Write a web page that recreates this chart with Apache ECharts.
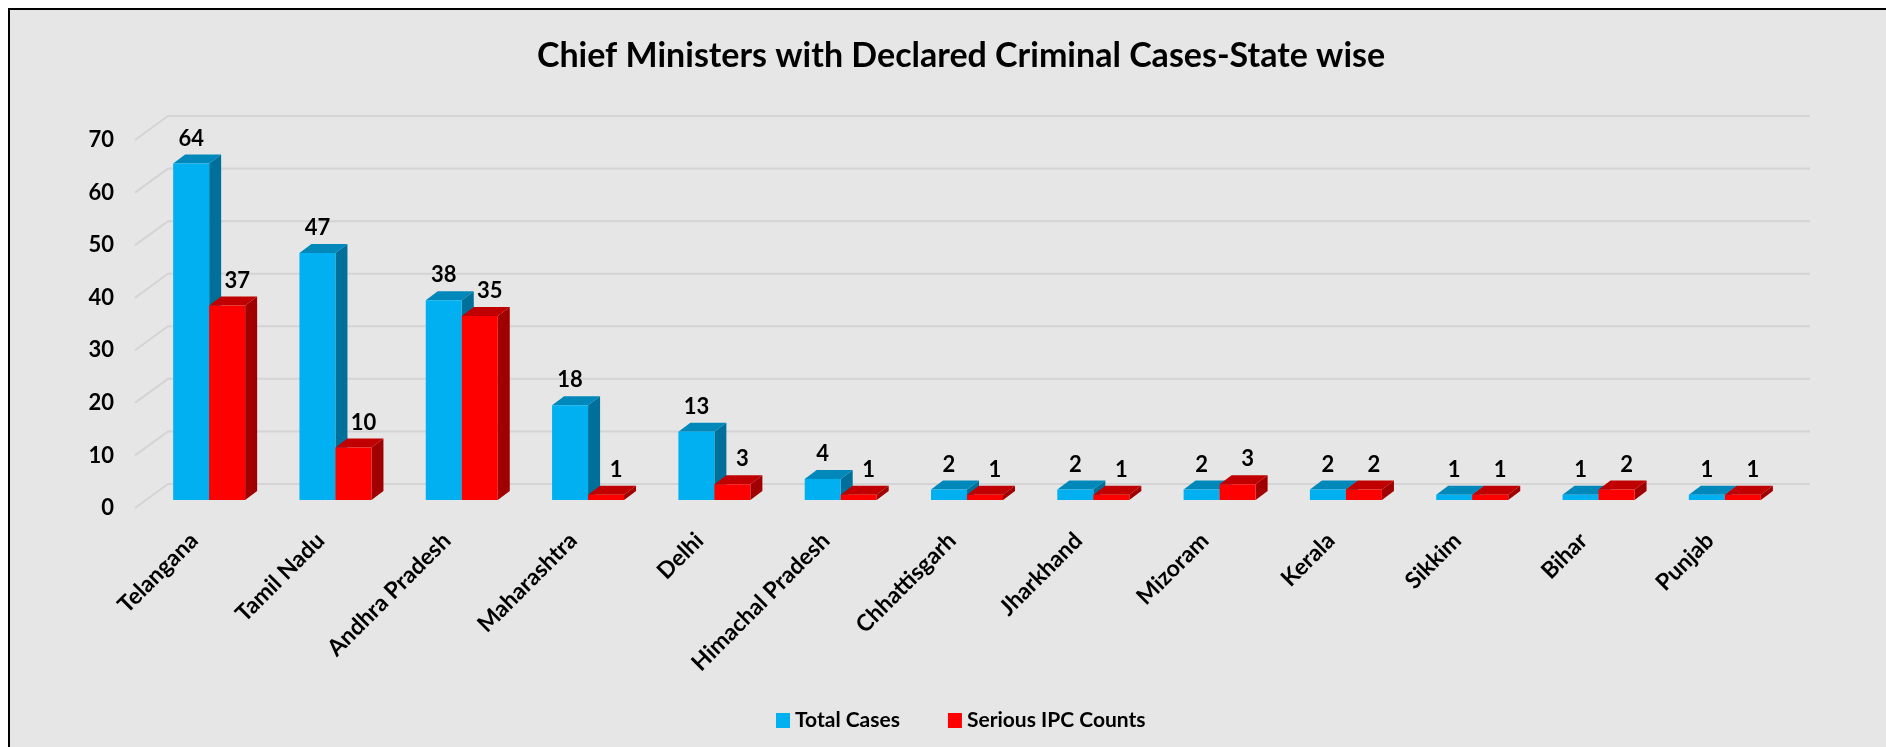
<!DOCTYPE html>
<html>
<head>
<meta charset="utf-8">
<script src="https://cdn.jsdelivr.net/npm/echarts@6/dist/echarts.min.js"></script>
<style>
html,body{margin:0;padding:0;background:#ffffff;}
#chart{width:1886px;height:747px;}
</style>
</head>
<body>
<div id="chart"></div>
<script>
const titleText = 'Chief Ministers with Declared Criminal Cases-State wise';
const categories = ['Telangana','Tamil Nadu','Andhra Pradesh','Maharashtra','Delhi','Himachal Pradesh','Chhattisgarh','Jharkhand','Mizoram','Kerala','Sikkim','Bihar','Punjab'];
const totalCases = [64,47,38,18,13,4,2,2,2,2,1,1,1];
const seriousIPC = [37,10,35,1,3,1,1,1,3,2,1,2,1];
const yTicks = [0,10,20,30,40,50,60,70];
const seriesNames = ['Total Cases','Serious IPC Counts'];

const FONT = 'Lato, "Open Sans", sans-serif';
const DEPTH_X = 12, DEPTH_Y = 9;       // bar depth
const WALL_BACK_X = 22, WALL_BACK_Y = -16;  // back wall offset from bar plane
const FLOOR_FRONT_X = -11, FLOOR_FRONT_Y = 8; // floor front edge offset

function barRenderer(side, front, topC, sideC, labelShift) {
  return function (params, api) {
    const idx = api.value(0), val = api.value(1);
    const base = api.coord([idx, 0]);
    const top = api.coord([idx, val]);
    const band = api.size([1, 0])[0];
    const w = band * 0.285;
    const x0 = side === 0 ? base[0] - w : base[0];
    const x1 = x0 + w;
    const yb = base[1], yt = top[1];
    return {
      type: 'group',
      children: [
        { type: 'polygon', shape: { points: [[x1, yt], [x1 + DEPTH_X, yt - DEPTH_Y], [x1 + DEPTH_X, yb - DEPTH_Y], [x1, yb]] }, style: { fill: sideC } },
        { type: 'polygon', shape: { points: [[x0, yt], [x0 + DEPTH_X, yt - DEPTH_Y], [x1 + DEPTH_X, yt - DEPTH_Y], [x1, yt]] }, style: { fill: topC } },
        { type: 'rect', shape: { x: x0, y: yt, width: w, height: yb - yt }, style: { fill: front } },
        { type: 'text', style: { x: (x0 + x1) / 2 + labelShift, y: yt - 25, text: String(val), fill: '#000', font: 'bold 22px ' + FONT, textAlign: 'center', textVerticalAlign: 'middle' } }
      ]
    };
  };
}

function wallRenderer(params, api) {
  const v = api.value(0);
  const cs = params.coordSys;
  const p = api.coord([0, v]);
  const y = p[1];
  const xl = cs.x, xr = cs.x + cs.width;
  return {
    type: 'polyline',
    shape: { points: [[xl + FLOOR_FRONT_X, y + FLOOR_FRONT_Y], [xl + WALL_BACK_X, y + WALL_BACK_Y], [xr + WALL_BACK_X, y + WALL_BACK_Y]] },
    style: { stroke: '#d4d4d4', lineWidth: 2, fill: null }
  };
}

const chart = echarts.init(document.getElementById('chart'));
chart.setOption({
  backgroundColor: '#ffffff',
  animation: false,
  graphic: [{
    type: 'rect', z: -10, silent: true,
    shape: { x: 9, y: 9, width: 1960, height: 800 },
    style: { fill: '#e6e6e6', stroke: '#000000', lineWidth: 2 }
  }],
  title: {
    text: titleText, left: 956, top: 34, textAlign: 'center',
    textStyle: { fontFamily: FONT, fontWeight: 'bold', fontSize: 34, color: '#000' }
  },
  legend: {
    data: seriesNames, left: 771, top: 705, itemWidth: 14, itemHeight: 15, itemGap: 48,
    icon: 'rect',
    textStyle: { fontFamily: FONT, fontWeight: 'bold', fontSize: 21, color: '#000' }
  },
  grid: [
    { left: 146, right: 98, top: 132, bottom: 247 },
    { left: 135, right: 109, top: 140, bottom: 239 }
  ],
  xAxis: [
    { type: 'category', gridIndex: 0, data: categories,
      axisLine: { show: false }, axisTick: { show: false },
      axisLabel: { interval: 0, rotate: 45, margin: 22, padding: [0, 21, 0, 0], fontFamily: FONT, fontWeight: 'bold', fontSize: 23, color: '#000' } },
    { type: 'category', gridIndex: 1, data: categories, show: false }
  ],
  yAxis: [
    { type: 'value', gridIndex: 0, min: 0, max: 70, interval: 10,
      axisLabel: { show: false }, splitLine: { show: false }, axisLine: { show: false }, axisTick: { show: false } },
    { type: 'value', gridIndex: 1, min: 0, max: 70, interval: 10,
      axisLine: { show: false }, axisTick: { show: false }, splitLine: { show: false },
      axisLabel: { margin: 21, fontFamily: FONT, fontWeight: 'bold', fontSize: 22, color: '#000' } }
  ],
  series: [
    { type: 'custom', name: 'wall', xAxisIndex: 0, yAxisIndex: 0, z: 1, silent: true,
      renderItem: wallRenderer, data: yTicks.map(v => [v]), encode: { y: 0 } },
    { type: 'custom', name: seriesNames[0], xAxisIndex: 0, yAxisIndex: 0, z: 2,
      itemStyle: { color: '#00B0F0' },
      renderItem: barRenderer(0, '#00B0F0', '#0088BB', '#00709A', 0),
      data: categories.map((c, i) => [i, totalCases[i]]), encode: { x: 0, y: 1 } },
    { type: 'custom', name: seriesNames[1], xAxisIndex: 0, yAxisIndex: 0, z: 3,
      itemStyle: { color: '#FF0000' },
      renderItem: barRenderer(1, '#FF0000', '#C00000', '#A00000', 10),
      data: categories.map((c, i) => [i, seriousIPC[i]]), encode: { x: 0, y: 1 } }
  ]
});
</script>
</body>
</html>
